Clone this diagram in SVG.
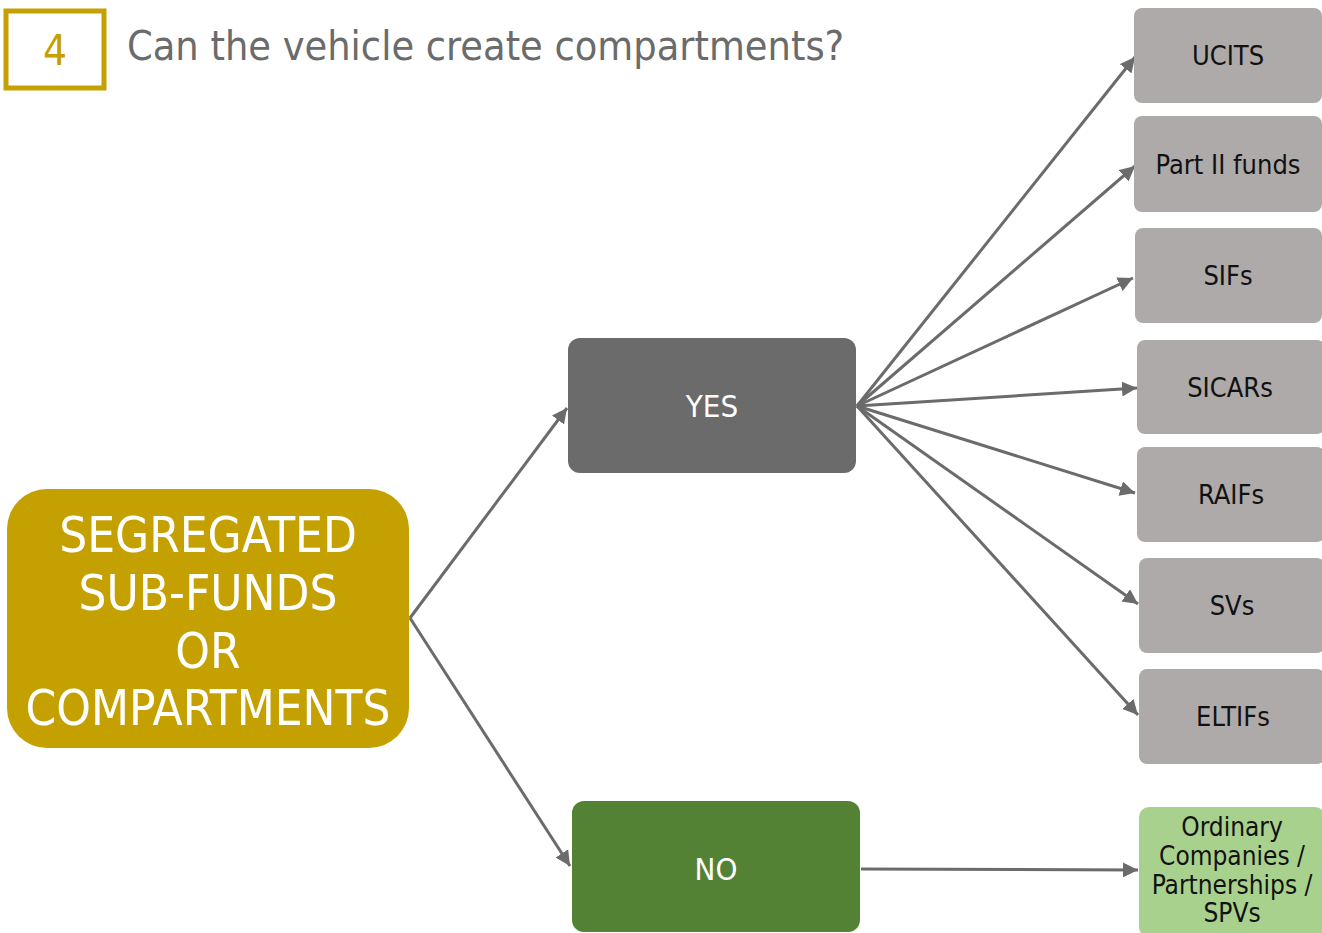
<svg xmlns="http://www.w3.org/2000/svg" width="1322" height="933" viewBox="0 0 1322 933">
<defs>
<marker id="ah" viewBox="0 0 10 10" refX="10" refY="5" markerWidth="5" markerHeight="5" markerUnits="strokeWidth" orient="auto">
<path d="M0,0 L10,5 L0,10 z" fill="#6b6b6b"/>
</marker>
<style>
.t{font-family:"DejaVu Sans Condensed","DejaVu Sans",sans-serif;text-anchor:middle}
.w{fill:#ffffff}
.k{fill:#111111;font-size:27px}
.g{fill:#aeaaaa}
.c{stroke:#6b6b6b;stroke-width:3;fill:none;marker-end:url(#ah)}
</style>
</defs>
<rect width="1322" height="933" fill="#ffffff"/>
<g id="header">
<rect x="6" y="11" width="98" height="77" fill="none" stroke="#c4a000" stroke-width="5"/>
<text class="t" x="55" y="65" font-size="42" fill="#c4a000">4</text>
<text x="127" y="60" font-family="DejaVu Sans Condensed,DejaVu Sans,sans-serif" font-size="41" fill="#6b6b6b">Can the vehicle create compartments?</text>
</g>
<g id="connectors">
<line class="c" x1="410" y1="618" x2="567" y2="408"/>
<line class="c" x1="410" y1="618" x2="570" y2="866"/>
<line class="c" x1="857" y1="406" x2="1135" y2="57"/>
<line class="c" x1="857" y1="406" x2="1135" y2="166"/>
<line class="c" x1="857" y1="406" x2="1133" y2="278"/>
<line class="c" x1="857" y1="406" x2="1137" y2="388"/>
<line class="c" x1="857" y1="406" x2="1135" y2="493"/>
<line class="c" x1="857" y1="406" x2="1138" y2="604"/>
<line class="c" x1="857" y1="406" x2="1138" y2="715"/>
<line class="c" x1="861" y1="869" x2="1138" y2="870"/>
</g>
<g id="segregated">
<rect x="7" y="489" width="402" height="259" rx="40" fill="#c4a000"/>
<text class="t w" font-size="49"><tspan x="208" y="552">SEGREGATED</tspan><tspan x="208" y="610">SUB-FUNDS</tspan><tspan x="208" y="668">OR</tspan><tspan x="208" y="725">COMPARTMENTS</tspan></text>
</g>
<g id="yes">
<rect x="568" y="338" width="288" height="135" rx="12" fill="#6b6b6b"/>
<text class="t w" x="712" y="417" font-size="31">YES</text>
</g>
<g id="no">
<rect x="572" y="801" width="288" height="131" rx="12" fill="#548235"/>
<text class="t w" x="716" y="880" font-size="31">NO</text>
</g>
<g id="ucits">
<rect class="g" x="1134" y="8" width="188" height="95" rx="8"/>
<text class="t k" x="1228" y="65">UCITS</text>
</g>
<g id="part2">
<rect class="g" x="1134" y="116" width="188" height="96" rx="8"/>
<text class="t k" x="1228" y="174">Part II funds</text>
</g>
<g id="sifs">
<rect class="g" x="1135" y="228" width="187" height="95" rx="8"/>
<text class="t k" x="1228" y="285">SIFs</text>
</g>
<g id="sicars">
<rect class="g" x="1137" y="340" width="188" height="94" rx="8"/>
<text class="t k" x="1230" y="397">SICARs</text>
</g>
<g id="raifs">
<rect class="g" x="1137" y="447" width="188" height="95" rx="8"/>
<text class="t k" x="1231" y="504">RAIFs</text>
</g>
<g id="svs">
<rect class="g" x="1139" y="558" width="186" height="95" rx="8"/>
<text class="t k" x="1232" y="615">SVs</text>
</g>
<g id="eltifs">
<rect class="g" x="1139" y="669" width="186" height="95" rx="8"/>
<text class="t k" x="1233" y="726">ELTIFs</text>
</g>
<g id="ordinary">
<rect x="1139" y="807" width="186" height="130" rx="10" fill="#a9d18e"/>
<text class="t" fill="#111111" font-size="26"><tspan x="1232" y="836">Ordinary</tspan><tspan x="1232" y="865">Companies /</tspan><tspan x="1232" y="894">Partnerships /</tspan><tspan x="1232" y="922">SPVs</tspan></text>
</g>
</svg>
